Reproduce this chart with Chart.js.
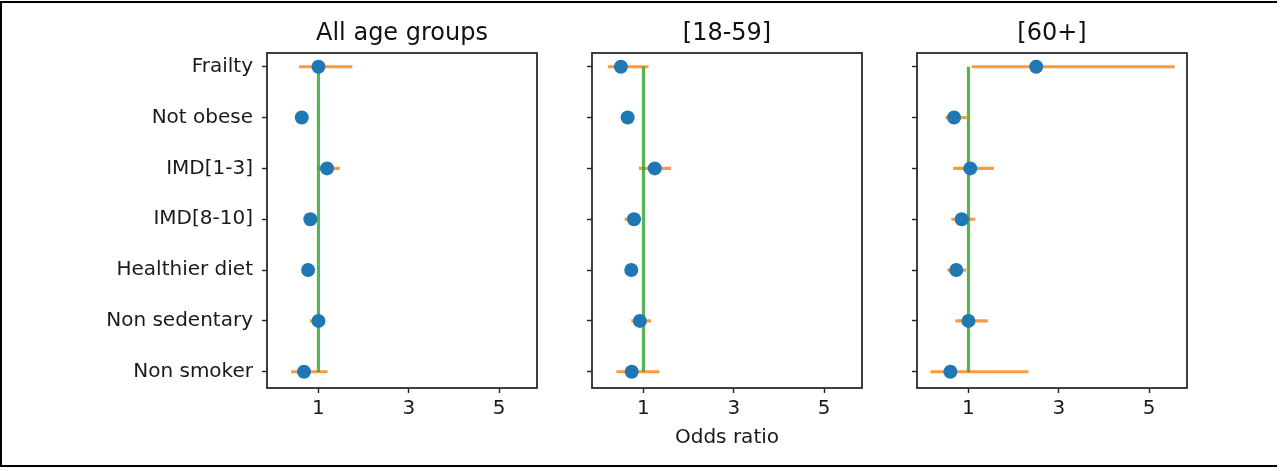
<!DOCTYPE html>
<html>
<head>
<meta charset="utf-8">
<script src="https://cdn.jsdelivr.net/npm/chart.js@4.4.1/dist/chart.umd.min.js"></script>
<style>
  body { margin: 0; background: #fff; }
  #page { position: relative; width: 1280px; height: 471px; overflow: hidden; }
  #frame { position: absolute; left: 0; top: 1px; width: 1277px; height: 466px; box-sizing: border-box;
           border: 2px solid #000; border-right: none; }
  .panel { position: absolute; top: 0; }
</style>
</head>
<body>
<div id="page">
  <div id="frame"></div>
  <div class="panel" style="left:10px"><canvas id="c1" width="534" height="471"></canvas></div>
  <div class="panel" style="left:572px"><canvas id="c2" width="297" height="471"></canvas></div>
  <div class="panel" style="left:897px"><canvas id="c3" width="297" height="471"></canvas></div>
</div>
<script>
// categories, top to bottom
const categories = ['Frailty', 'Not obese', 'IMD[1-3]', 'IMD[8-10]', 'Healthier diet', 'Non sedentary', 'Non smoker'];
const xTicks = [1, 3, 5];

// All age groups
const allOR   = [1.00, 0.63, 1.19, 0.82, 0.77, 1.00, 0.68];
const allLow  = [0.57, 0.56, 0.98, 0.74, 0.70, 0.81, 0.39];
const allHigh = [1.75, 0.70, 1.47, 0.90, 0.85, 1.09, 1.20];

// [18-59]
const youngOR   = [0.50, 0.65, 1.25, 0.79, 0.73, 0.92, 0.74];
const youngLow  = [0.21, 0.57, 0.90, 0.58, 0.63, 0.73, 0.40];
const youngHigh = [1.11, 0.74, 1.61, 0.95, 0.84, 1.17, 1.35];

// [60+]
const oldOR   = [2.50, 0.68, 1.04, 0.85, 0.73, 1.00, 0.60];
const oldLow  = [1.07, 0.49, 0.66, 0.62, 0.53, 0.71, 0.16];
const oldHigh = [5.57, 0.96, 1.56, 1.15, 0.95, 1.43, 2.33];

const FONT = "'DejaVu Sans', sans-serif";

// box round the plot area + panel title
const panelDeco = {
  id: 'panelDeco',
  afterDatasetsDraw(chart, args, opts) {
    const { ctx, chartArea: a } = chart;
    ctx.save();
    ctx.strokeStyle = '#2b2b2b';
    ctx.lineWidth = 1.8;
    ctx.strokeRect(a.left, a.top, a.right - a.left, a.bottom - a.top);
    ctx.fillStyle = '#111';
    ctx.font = '24px ' + FONT;
    ctx.textAlign = 'center';
    ctx.textBaseline = 'alphabetic';
    ctx.fillText(opts.text, (a.left + a.right) / 2, 40);
    ctx.restore();
  }
};

function makePanel(id, title, or, low, high, yWidth, showLabels, xTitle) {
  const points = categories.map((c, i) => ({ x: or[i], y: i }));
  const bars = [];
  categories.forEach((c, i) => {
    bars.push({ x: low[i], y: i }, { x: high[i], y: i }, { x: null, y: null });
  });

  new Chart(document.getElementById(id), {
    type: 'scatter',
    data: {
      datasets: [
        { data: points, pointRadius: 7, pointHoverRadius: 7, backgroundColor: '#1f77b4', borderWidth: 0, order: 0 },
        { data: [{ x: 1, y: 0 }, { x: 1, y: categories.length - 1 }], showLine: true, pointRadius: 0,
          borderColor: 'rgba(44,160,44,0.8)', borderWidth: 3.2, order: 1 },
        { data: bars, showLine: true, spanGaps: false, pointRadius: 0,
          borderColor: 'rgba(255,127,14,0.8)', borderWidth: 3.2, order: 2 }
      ]
    },
    options: {
      responsive: false,
      animation: false,
      layout: { padding: { top: 53, right: 5, bottom: 0, left: 0 } },
      plugins: {
        legend: { display: false },
        tooltip: { enabled: false },
        panelDeco: { text: title }
      },
      scales: {
        x: {
          type: 'linear',
          min: -0.14,
          max: 5.84,
          afterBuildTicks: (s) => { s.ticks = xTicks.map(v => ({ value: v })); },
          afterFit: (s) => { s.height = 83; },
          border: { display: false },
          grid: { drawOnChartArea: false, drawTicks: true, tickLength: 5, tickColor: '#222', tickWidth: 1.4 },
          ticks: { padding: 4, color: '#1a1a1a', font: { family: FONT, size: 20 }, callback: (v) => v },
          title: { display: !!xTitle, text: xTitle || '', color: '#1a1a1a', font: { family: FONT, size: 20 },
                   padding: { top: 0, bottom: 21 } }
        },
        y: {
          type: 'linear',
          reverse: true,
          min: -0.27,
          max: 6.32,
          afterBuildTicks: (s) => { s.ticks = categories.map((c, i) => ({ value: i })); },
          afterFit: (s) => { s.width = yWidth; },
          border: { display: false },
          grid: { drawOnChartArea: false, drawTicks: true, tickLength: 5, tickColor: '#222', tickWidth: 1.4 },
          ticks: {
            autoSkip: false, padding: 9, color: '#1a1a1a', font: { family: FONT, size: 20 },
            callback: (v) => showLabels ? categories[v] : ''
          }
        }
      }
    },
    plugins: [panelDeco]
  });
}

makePanel('c1', 'All age groups', allOR, allLow, allHigh, 257, true, null);
makePanel('c2', '[18-59]', youngOR, youngLow, youngHigh, 20, false, 'Odds ratio');
makePanel('c3', '[60+]', oldOR, oldLow, oldHigh, 20, false, null);
</script>
</body>
</html>
